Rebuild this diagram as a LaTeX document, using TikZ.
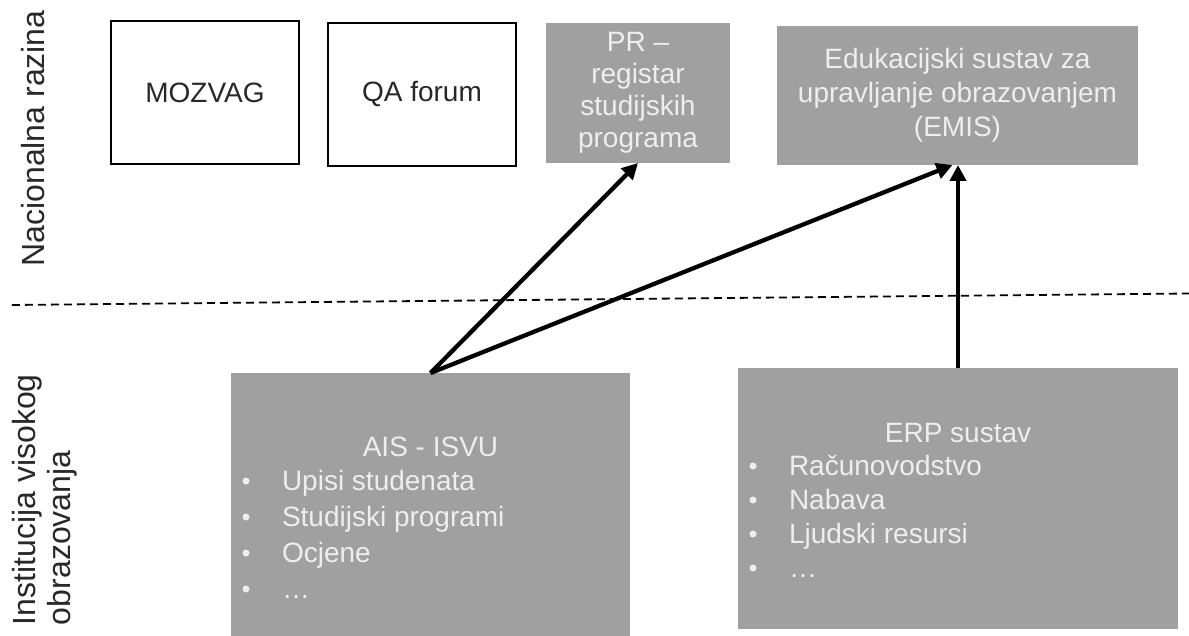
\documentclass[tikz,border=0pt]{standalone}
\usepackage{fontspec}
\setmainfont{Liberation Sans}
\usetikzlibrary{arrows.meta}
\definecolor{boxgray}{RGB}{160,160,160}
\definecolor{boxtext}{RGB}{238,238,238}
\definecolor{ink}{RGB}{40,40,40}
\begin{document}
\begin{tikzpicture}[x=1bp,y=-1bp,
  every node/.style={inner sep=0pt, outer sep=0pt},
  whitebox/.style={draw=black, line width=1.8bp, fill=white, text=ink,
    minimum width=188bp, minimum height=143bp,
    font=\fontsize{28bp}{31bp}\selectfont},
  graybox/.style={fill=boxgray, text=boxtext, align=center,
    font=\fontsize{28bp}{31bp}\selectfont},
  boxlabel/.style={text=boxtext, font=\fontsize{28bp}{31bp}\selectfont},
  bulletdot/.style={circle, fill=boxtext, minimum size=7bp},
  sidelabel/.style={text=ink, rotate=90, font=\fontsize{32bp}{36bp}\selectfont},
  arr/.style={line width=4.3bp, -{Triangle[length=16bp,width=16bp]}},
  sepline/.style={dash pattern=on 8bp off 5bp, line width=1.8bp}
]
\useasboundingbox (0,0) rectangle (1189,636);

% separator
\coordinate (sepL) at (12,305);
\coordinate (sepR) at (1189,293.5);
\draw[sepline] (sepL) -- (sepR);

% side labels
\node[sidelabel, anchor=base] (nac) at (44,138.5) {Nacionalna razina};
\node[sidelabel, anchor=base west] (inst1) at (35,625) {Institucija visokog};
\node[sidelabel, anchor=base west] (inst2) at (70,625) {obrazovanja};

% national level
\node[whitebox] (mozvag) at (205,92.5) {MOZVAG};
\node[whitebox] (qa) at (422,94.5) {QA forum};
\node[graybox, minimum width=184bp, minimum height=140bp,
  font=\fontsize{28bp}{32bp}\selectfont] (pr) at (638,93)
  {PR –\\registar\\studijskih\\programa};
\node[graybox, minimum width=361bp, minimum height=139bp,
  font=\fontsize{28bp}{34bp}\selectfont] (emis) at (957.5,95.5)
  {Edukacijski sustav za\\upravljanje obrazovanjem\\(EMIS)};

% institution level
\node[graybox, minimum width=398bp, minimum height=263bp] (ais) at (430.5,504.5) {};
\node[graybox, minimum width=440bp, minimum height=261bp] (erp) at (958,498.5) {};

\node[boxlabel, anchor=base] (aist) at (430.5,456) {AIS - ISVU};
\node[bulletdot] (ab1) at (246,481) {};
\node[bulletdot] (ab2) at (246,517) {};
\node[bulletdot] (ab3) at (246,553) {};
\node[bulletdot] (ab4) at (246,589) {};
\node[boxlabel, anchor=base west] (ai1) at (282,490) {Upisi studenata};
\node[boxlabel, anchor=base west] (ai2) at (282,526) {Studijski programi};
\node[boxlabel, anchor=base west] (ai3) at (282,562) {Ocjene};
\node[boxlabel, anchor=base west] (ai4) at (282,598) {…};

\node[boxlabel, anchor=base] (erpt) at (958,442) {ERP sustav};
\node[bulletdot] (eb1) at (753,466) {};
\node[bulletdot] (eb2) at (753,500) {};
\node[bulletdot] (eb3) at (753,534) {};
\node[bulletdot] (eb4) at (753,568) {};
\node[boxlabel, anchor=base west] (ei1) at (789,475) {Računovodstvo};
\node[boxlabel, anchor=base west] (ei2) at (789,509) {Nabava};
\node[boxlabel, anchor=base west] (ei3) at (789,543) {Ljudski resursi};
\node[boxlabel, anchor=base west] (ei4) at (789,577) {…};

% connectors
\draw[arr] (ais.north) -- (pr.south);
\draw[arr] (ais.north) -- ([xshift=-5bp]emis.south);
\draw[arr] (erp.north) -- (erp.north |- emis.south);
\end{tikzpicture}
\end{document}
